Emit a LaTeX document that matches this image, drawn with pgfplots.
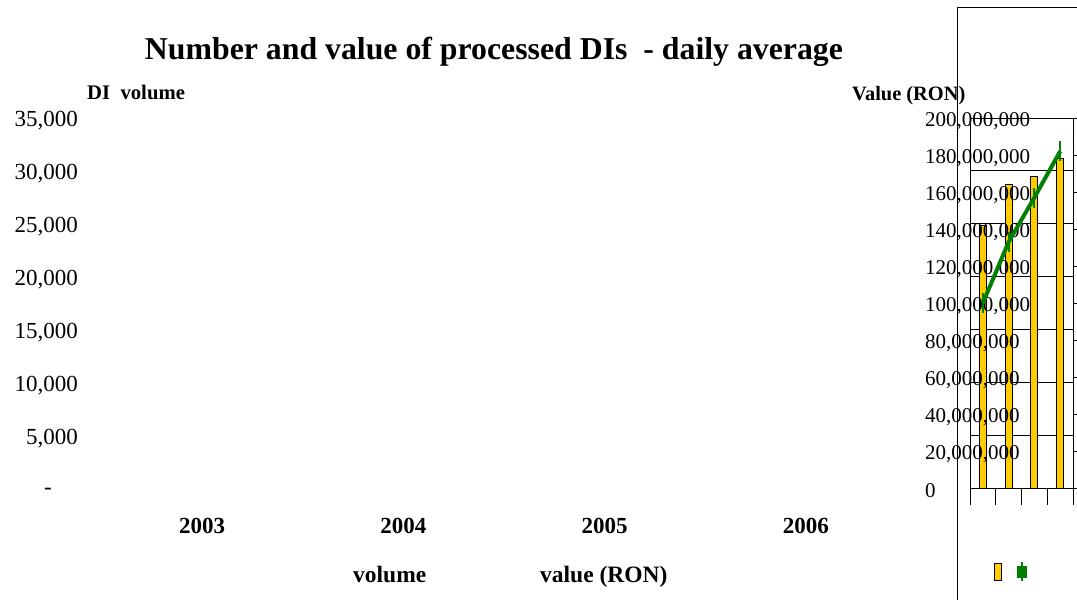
\documentclass[border=0pt]{standalone}
\usepackage{fontspec}
\setmainfont{Liberation Serif}
\usepackage{pgfplots}
\pgfplotsset{compat=1.18}
\definecolor{barfill}{RGB}{255,204,0}
\definecolor{linegreen}{RGB}{0,128,0}
\begin{document}
\begin{tikzpicture}[x=1pt,y=1pt]
\useasboundingbox (0,0) rectangle (1077,600);
% texts
\node[anchor=base, inner sep=0pt, font=\fontsize{31.8}{32}\selectfont\bfseries] at (494,540) {Number and value of processed DIs\ \ - daily average};
\node[anchor=base west, inner sep=0pt, font=\fontsize{20.7}{21}\selectfont\bfseries] at (87,500) {DI\ \ volume};
\node[anchor=base west, inner sep=0pt, font=\fontsize{20.4}{21}\selectfont\bfseries] at (852,499.5) {Value (RON)};
\node[anchor=base west, inner sep=0pt, font=\fontsize{23.5}{24}\selectfont\bfseries] at (353,17) {volume};
\node[anchor=base west, inner sep=0pt, font=\fontsize{23.5}{24}\selectfont\bfseries] at (540,17) {value (RON)};
% left (volume) scale and categories
\begin{axis}[at={(101.5pt,112pt)}, anchor=south west, scale only axis, width=805pt, height=370pt,
 xmin=0.5, xmax=4.5, ymin=0, ymax=35000, scaled y ticks=false,
 xtick={1,2,3,4}, xticklabels={2003,2004,2005,2006},
 ytick={0,5000,10000,15000,20000,25000,30000,35000},
 yticklabels={{-\hspace*{26pt}},{5,000},{10,000},{15,000},{20,000},{25,000},{30,000},{35,000}},
 axis line style={draw=none}, major tick style={draw=none}, tick pos=left,
 xticklabel style={font=\fontsize{23}{23}\selectfont\bfseries, inner sep=0pt, anchor=north, yshift=-30pt},
 yticklabel style={font=\fontsize{23}{23}\selectfont, inner sep=0pt, anchor=east, xshift=-23.5pt, yshift=-3pt},
]
\end{axis}
% bars (volume)
\begin{axis}[at={(970pt,112pt)}, anchor=south west, scale only axis, width=103pt, height=370pt,
 xmin=0.5, xmax=4.5, ymin=0, ymax=35000, scaled y ticks=false,
 xtick={0.5,1.5,2.5,3.5,4.5}, xticklabels={}, xtick pos=left, tick align=center,
 x tick style={black, line width=0.8pt}, major tick length=17pt,
 ytick={0,5000,10000,15000,20000,25000,30000,35000}, yticklabels={}, ymajorgrids,
 y tick style={draw=none}, grid style={black, line width=0.8pt},
 axis line style={black, line width=0.8pt},
 ybar, bar width=7pt, bar shift=0pt,
 legend style={at={(0.2767,-0.2257)}, anchor=center, draw=none, fill=none, inner sep=0pt, nodes={inner sep=0pt}},
]
\addplot[fill=barfill, draw=black, line width=0.8pt,
 legend image code/.code={\draw[fill=barfill, draw=black, line width=0.8pt] (-3.5pt,-8.5pt) rectangle (3.5pt,8.5pt);}]
 coordinates {(1,24800) (2,28700) (3,29500) (4,31200)};
\addlegendentry{\mbox{}}
\end{axis}
% line (value)
\begin{axis}[at={(970pt,112pt)}, anchor=south west, scale only axis, width=103pt, height=370pt,
 xmin=0.5, xmax=4.5, ymin=0, ymax=200000000, scaled y ticks=false,
 hide x axis, axis line style={draw=none},
 ytick={0,20000000,40000000,60000000,80000000,100000000,120000000,140000000,160000000,180000000,200000000},
 yticklabels={0,{20,000,000},{40,000,000},{60,000,000},{80,000,000},{100,000,000},{120,000,000},{140,000,000},{160,000,000},{180,000,000},{200,000,000}},
 ytick pos=right, yticklabel pos=left, tick align=outside, major tick length=6pt,
 y tick style={black, line width=0.8pt},
 yticklabel style={font=\fontsize{21}{21}\selectfont, inner sep=0pt, anchor=west, xshift=-39pt, yshift=-3pt},
 legend style={at={(0.505,-0.2257)}, anchor=center, draw=none, fill=none, inner sep=0pt, nodes={inner sep=0pt}},
]
\addplot[linegreen, line width=4pt, mark=|, mark size=10pt, mark options={line width=2pt, solid},
 legend image code/.code={\fill[linegreen] (-3pt,-4pt) rectangle (3pt,4pt); \draw[linegreen, line width=2pt] (0pt,-9.5pt) -- (0pt,9.5pt);}]
 coordinates {(1,100000000) (2,133000000) (3,157000000) (4,182000000)};
\addlegendentry{\mbox{}}
\end{axis}
\draw[black, line width=1pt] (957.7,0) -- (957.7,592.7) -- (1077,592.7);
\end{tikzpicture}
\end{document}
